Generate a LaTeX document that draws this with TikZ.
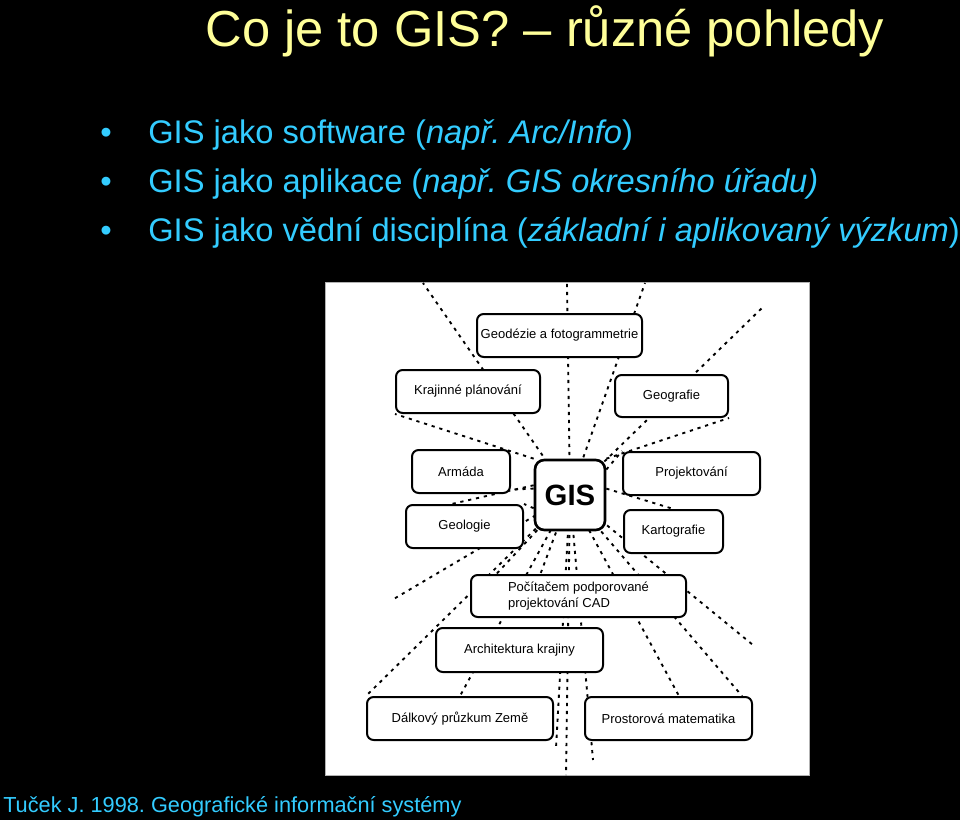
\documentclass[tikz,border=0pt]{standalone}
\usepackage{fontspec}
\setmainfont{Liberation Sans}
\frenchspacing
\pgfdeclarelayer{backdrop}
\pgfdeclarelayer{rays}
\pgfsetlayers{backdrop,rays,main}
\definecolor{titleyellow}{HTML}{FFFF99}
\definecolor{textcyan}{HTML}{33CCFF}

\begin{document}
\begin{tikzpicture}[x=0.75pt, y=-0.75pt,
    box/.style={draw, line width=1.5pt, rounded corners=5pt, fill=white, inner sep=2pt,
      font=\fontsize{9.75}{11.5}\selectfont},
    ray/.style={line width=1.4pt, dash pattern=on 2.4pt off 3.6pt},
    bullet/.style={anchor=base west, inner sep=0pt, text=textcyan, font=\fontsize{24.5}{29}\selectfont}]
  \useasboundingbox (0,0) rectangle (960,820);

  % Le fond
  \begin{pgfonlayer}{backdrop}
    \fill[black] (0,0) rectangle (960,820);
    \filldraw[fill=white, draw=gray!60, line width=0.6pt] (325,282) rectangle (809,775);
  \end{pgfonlayer}

  % Le titre et les points
  \node[anchor=base, inner sep=0pt, text=titleyellow, font=\fontsize{38}{44}\selectfont] (title) at (545,47) {Co je to GIS? – různé pohledy};
  \node[bullet, anchor=base] (d1) at (106,144) {•};
  \node[bullet, anchor=base] (d2) at (106,193) {•};
  \node[bullet, anchor=base] (d3) at (106,241) {•};
  \node[bullet] (b1) at (148,144) {GIS jako software (\textit{např. Arc/Info})};
  \node[bullet] (b2) at (148,193) {GIS jako aplikace (\textit{např. GIS okresního úřadu)}};
  \node[bullet] (b3) at (148,241) {GIS jako vědní disciplína (\textit{základní i aplikovaný výzkum})};
  \node[anchor=base west, inner sep=0pt, text=textcyan, font=\fontsize{16.3}{19}\selectfont] (src) at (3,812) {Tuček J. 1998. Geografické informační systémy};

  % Les boites
  \node[box, minimum width=123.75pt, minimum height=32.25pt] (geod) at (559.5,335.5) {Geodézie a fotogrammetrie};
  \node[box, minimum width=108pt, minimum height=32.25pt] (kraj) at (468,391.5) {Krajinné plánování};
  \node[box, minimum width=84.75pt, minimum height=31.5pt] (geog) at (671.5,396) {Geografie};
  \node[box, minimum width=73.5pt, minimum height=32.25pt] (arm) at (461,471.5) {Armáda};
  \node[box, minimum width=102.75pt, minimum height=32.25pt] (proj) at (691.5,473.5) {Projektování};
  \node[box, minimum width=87.75pt, minimum height=32.25pt] (geol) at (464.5,526.5) {Geologie};
  \node[box, minimum width=74.25pt, minimum height=32.25pt] (kart) at (673.5,531.5) {Kartografie};
  \node[box, minimum width=161.25pt, minimum height=31.5pt, align=left] (cad) at (578.5,596) {Počítačem podporované\\projektování CAD};
  \node[box, minimum width=125.25pt, minimum height=33pt] (arch) at (519.5,650) {Architektura krajiny};
  \node[box, minimum width=139.5pt, minimum height=32.25pt] (dalk) at (460,718.5) {Dálkový průzkum Země};
  \node[box, minimum width=125.25pt, minimum height=32.25pt] (pros) at (668.5,718.5) {Prostorová matematika};
  \node[box, line width=2pt, rounded corners=7pt, minimum width=52.5pt, minimum height=52.5pt,
    font=\fontsize{22}{22}\selectfont\bfseries] (gis) at (570,495) {GIS};

  % Les rayons
  \coordinate (up1) at (423,283);
  \coordinate (up2) at (567,283);
  \coordinate (up3) at (645,283);
  \coordinate (up4) at (763,307);
  \coordinate (lo1) at (392,600);
  \coordinate (lo2) at (566,775);
  \coordinate (lo3) at (556,748);
  \coordinate (lo4) at (593,760);
  \coordinate (lo5) at (753,645);
  \begin{pgfonlayer}{rays}
    \foreach \e in {up1,up2,up3,up4,lo1,lo2,lo3,lo4,lo5}
      \draw[ray] (gis.center) -- (\e);
    \foreach \e in {cad.165,cad.150,dalk.north west,dalk.north,pros.65,pros.17}
      \draw[ray] (gis.center) -- (\e);
    \draw[ray] (gis.north west) -- (kraj.south west);
    \draw[ray] (gis.north east) -- (geog.south east);
    \draw[ray] (gis.35) -- (proj.north west);
    \draw[ray] (gis.10) -- (kart.north);
    \draw[ray] (gis.170) -- (arm.-20);
    \draw[ray] (gis.165) -- (geol.120);
    \draw[ray] (gis.200) -- (geol.north east);
  \end{pgfonlayer}

\end{tikzpicture}
\end{document}
